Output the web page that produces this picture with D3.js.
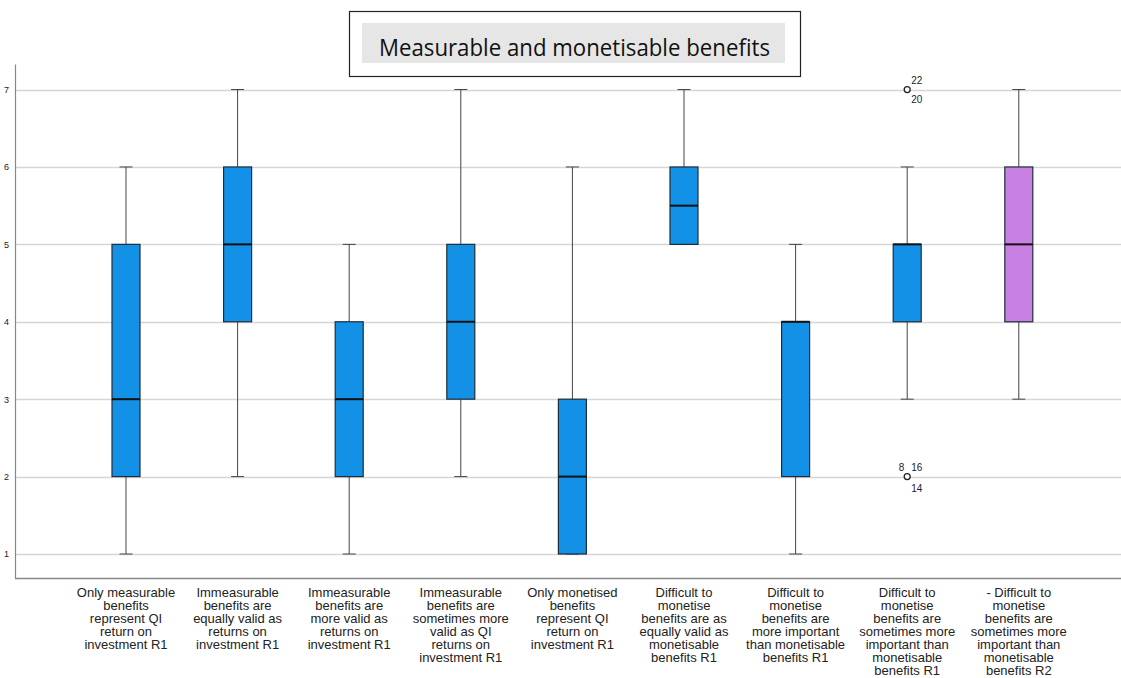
<!DOCTYPE html>
<html>
<head>
<meta charset="utf-8">
<script src="https://cdn.jsdelivr.net/npm/d3@7/dist/d3.min.js"></script>
<style>
  html, body { margin: 0; padding: 0; background: #fff; }
  svg { display: block; }
</style>
</head>
<body>
<svg id="chart" width="1121" height="678"></svg>
<script>
// Category labels (line-broken as displayed under each box)
const categories = [
  ["Only measurable", "benefits", "represent QI", "return on", "investment R1"],
  ["Immeasurable", "benefits are", "equally valid as", "returns on", "investment R1"],
  ["Immeasurable", "benefits are", "more valid as", "returns on", "investment R1"],
  ["Immeasurable", "benefits are", "sometimes more", "valid as QI", "returns on", "investment R1"],
  ["Only monetised", "benefits", "represent QI", "return on", "investment R1"],
  ["Difficult to", "monetise", "benefits are as", "equally valid as", "monetisable", "benefits R1"],
  ["Difficult to", "monetise", "benefits are", "more important", "than monetisable", "benefits R1"],
  ["Difficult to", "monetise", "benefits are", "sometimes more", "important than", "monetisable", "benefits R1"],
  ["- Difficult to", "monetise", "benefits are", "sometimes more", "important than", "monetisable", "benefits R2"]
];

// Five-number summaries per item
const whiskerLow  = [1, 2, 1, 2, 1, 5, 1, 3, 3];
const quartile1   = [2, 4, 2, 3, 1, 5, 2, 4, 4];
const medians     = [3, 5, 3, 4, 2, 5.5, 4, 5, 5];
const quartile3   = [5, 6, 4, 5, 3, 6, 4, 5, 6];
const whiskerHigh = [6, 7, 5, 7, 6, 7, 5, 6, 7];

// Outlying cases (item index, value, case labels)
const outliers = [
  { item: 7, value: 7, labels: ["22", "20"] },
  { item: 7, value: 2, labels: ["8", "16", "14"] }
];

const boxColors = ["#1391e6", "#1391e6", "#1391e6", "#1391e6", "#1391e6", "#1391e6", "#1391e6", "#1391e6", "#c880e3"];
const yTicks = [1, 2, 3, 4, 5, 6, 7];
const titleText = "Measurable and monetisable benefits";

const svg = d3.select("#chart");
const plot = { left: 15, right: 1121, top: 64, bottom: 578 };

const x = d3.scaleBand()
  .domain(d3.range(categories.length))
  .range([70.2, 1074.6])
  .paddingInner(0)
  .paddingOuter(0);

const y = d3.scaleLinear()
  .domain([0.69, 7.33])
  .range([plot.bottom, plot.top]);

// Gridlines
svg.append("g")
  .selectAll("line")
  .data(yTicks)
  .join("line")
  .attr("x1", plot.left)
  .attr("x2", plot.right)
  .attr("y1", d => Math.round(y(d)) + 0.5)
  .attr("y2", d => Math.round(y(d)) + 0.5)
  .attr("stroke", "#d6d6d6")
  .attr("stroke-width", 1.5);

// Y axis
const yAxis = d3.axisLeft(y).tickValues(yTicks).tickSize(0).tickPadding(6).tickFormat(d3.format("d"));
const yg = svg.append("g")
  .attr("transform", `translate(${plot.left},0)`)
  .call(yAxis);
yg.select(".domain").attr("stroke", "#888").attr("stroke-width", 1.2);
yg.selectAll("text")
  .attr("font-family", "Liberation Sans, Arial, sans-serif")
  .attr("font-size", 9)
  .attr("fill", "#222");

// X axis baseline
svg.append("line")
  .attr("x1", plot.left).attr("x2", plot.right)
  .attr("y1", plot.bottom + 0.5).attr("y2", plot.bottom + 0.5)
  .attr("stroke", "#888").attr("stroke-width", 1.5);

const boxW = 28, capW = 13;
const cx = i => x(i) + x.bandwidth() / 2;

const items = svg.append("g").selectAll("g")
  .data(d3.range(categories.length))
  .join("g");

// Whiskers
items.append("line")
  .attr("x1", cx).attr("x2", cx)
  .attr("y1", i => y(whiskerLow[i])).attr("y2", i => y(quartile1[i]))
  .attr("stroke", "#444").attr("stroke-width", 1);
items.append("line")
  .attr("x1", cx).attr("x2", cx)
  .attr("y1", i => y(quartile3[i])).attr("y2", i => y(whiskerHigh[i]))
  .attr("stroke", "#444").attr("stroke-width", 1);
// Caps
items.append("line")
  .attr("x1", i => cx(i) - capW / 2).attr("x2", i => cx(i) + capW / 2)
  .attr("y1", i => y(whiskerLow[i])).attr("y2", i => y(whiskerLow[i]))
  .attr("stroke", "#444").attr("stroke-width", 1);
items.append("line")
  .attr("x1", i => cx(i) - capW / 2).attr("x2", i => cx(i) + capW / 2)
  .attr("y1", i => y(whiskerHigh[i])).attr("y2", i => y(whiskerHigh[i]))
  .attr("stroke", "#444").attr("stroke-width", 1);

// Boxes
items.append("rect")
  .attr("x", i => cx(i) - boxW / 2)
  .attr("width", boxW)
  .attr("y", i => y(quartile3[i]))
  .attr("height", i => Math.max(1, y(quartile1[i]) - y(quartile3[i])))
  .attr("fill", i => boxColors[i])
  .attr("stroke", "#1e2d3a")
  .attr("stroke-width", 1.2);

// Medians
items.append("line")
  .attr("x1", i => cx(i) - boxW / 2).attr("x2", i => cx(i) + boxW / 2)
  .attr("y1", i => y(medians[i])).attr("y2", i => y(medians[i]))
  .attr("stroke", "#111").attr("stroke-width", 2);

// Outliers
const og = svg.append("g").selectAll("g").data(outliers).join("g");
og.append("circle")
  .attr("cx", d => cx(d.item))
  .attr("cy", d => y(d.value))
  .attr("r", 3)
  .attr("fill", "#fff")
  .attr("stroke", "#222")
  .attr("stroke-width", 1.3);

const labelFont = { family: "Liberation Sans, Arial, sans-serif", size: 10 };
og.each(function(d) {
  const g = d3.select(this);
  const px = cx(d.item), py = y(d.value);
  let placements;
  if (d.labels.length === 2) {
    placements = [
      { t: d.labels[0], dx: 4, dy: -6, anchor: "start" },
      { t: d.labels[1], dx: 4, dy: 13, anchor: "start" }
    ];
  } else {
    placements = [
      { t: d.labels[0], dx: -3, dy: -6, anchor: "end" },
      { t: d.labels[1], dx: 4, dy: -6, anchor: "start" },
      { t: d.labels[2], dx: 4, dy: 15, anchor: "start" }
    ];
  }
  placements.forEach(p => {
    g.append("text")
      .attr("x", px + p.dx).attr("y", py + p.dy)
      .attr("text-anchor", p.anchor)
      .attr("font-family", labelFont.family)
      .attr("font-size", labelFont.size)
      .attr("fill", "#222")
      .text(p.t);
  });
});

// Category labels
const lab = svg.append("g").selectAll("text")
  .data(d3.range(categories.length))
  .join("text")
  .attr("x", cx)
  .attr("y", 597)
  .attr("text-anchor", "middle")
  .attr("font-family", "Liberation Sans, Arial, sans-serif")
  .attr("font-size", 13)
  .attr("fill", "#222");
lab.selectAll("tspan")
  .data(i => categories[i].map(t => ({ t, i })))
  .join("tspan")
  .attr("x", d => cx(d.i))
  .attr("dy", (d, k) => k === 0 ? 0 : 13)
  .text(d => d.t);

// Title
svg.append("rect")
  .attr("x", 349.5).attr("y", 11.5)
  .attr("width", 451).attr("height", 65)
  .attr("fill", "#fff").attr("stroke", "#222").attr("stroke-width", 1.2);
svg.append("rect")
  .attr("x", 362).attr("y", 23)
  .attr("width", 423).attr("height", 40)
  .attr("fill", "#e6e6e6");
svg.append("text")
  .attr("x", 574.5).attr("y", 56)
  .attr("text-anchor", "middle")
  .attr("font-family", "Open Sans, Noto Sans, sans-serif")
  .attr("font-size", 23)
  .attr("textLength", 391)
  .attr("lengthAdjust", "spacingAndGlyphs")
  .attr("fill", "#111")
  .text(titleText);
</script>
</body>
</html>
